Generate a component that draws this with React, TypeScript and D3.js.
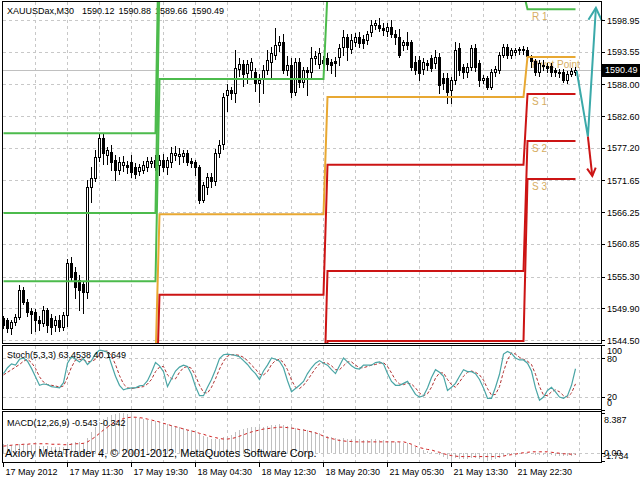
import React from 'react';
import * as d3 from 'd3';

const FONT = '"Liberation Sans", Arial, sans-serif';

// XAUUSDax M30 candles, 17-22 May 2012 (one value per bar)
const candleOpen = [
  1548.2, 1547.9, 1546.5, 1547.6, 1548.4, 1553.0, 1551.0, 1549.4, 1549.2, 1547.9,
  1547.4, 1549.6, 1548.2, 1547.0, 1547.9, 1546.7, 1548.7, 1557.6, 1556.0, 1554.7,
  1554.1, 1552.6, 1570.5, 1572.1, 1575.6, 1578.9, 1576.0, 1576.5, 1575.1, 1573.4,
  1574.2, 1574.3, 1574.8, 1574.0, 1573.2, 1573.4, 1573.9, 1574.6, 1575.1,
  1574.2, 1575.1, 1573.9, 1574.8, 1576.0, 1575.8, 1575.8, 1576.3, 1575.0, 1574.8,
  1573.9, 1568.3, 1570.6, 1572.2, 1571.6, 1576.3, 1577.9, 1586.2, 1587.0, 1586.6,
  1590.6, 1591.5, 1590.0, 1590.4, 1590.1, 1588.2, 1589.0, 1590.4, 1591.8, 1593.0,
  1594.7, 1595.2, 1590.4, 1591.3, 1586.7, 1591.8, 1588.4, 1590.4, 1590.1, 1592.5, 1591.5, 1592.1,
  1592.5, 1591.8, 1591.9, 1592.6, 1594.4, 1596.1, 1594.0, 1595.2, 1596.1, 1595.8,
  1595.6, 1596.9, 1598.1, 1598.1, 1597.6, 1597.0, 1597.8, 1596.6, 1596.0, 1594.7,
  1595.2, 1595.2, 1591.8, 1592.1, 1590.6, 1591.6, 1592.4, 1591.6, 1592.6, 1589.0,
  1589.0, 1587.0, 1588.7, 1594.2, 1591.0, 1590.1, 1591.0, 1594.2, 1591.6, 1588.7,
  1589.0, 1587.6, 1590.1, 1590.4, 1593.0, 1594.4, 1593.0, 1593.5, 1593.8, 1594.0,
  1593.9, 1592.5, 1591.9, 1590.1, 1591.3, 1591.1, 1591.1, 1590.4, 1590.1, 1590.1, 1588.8, 1589.8, 1590.12,
];
const candleHigh = [
  1548.6, 1548.3, 1547.9, 1548.9, 1553.9, 1553.6, 1551.4, 1550.0, 1549.8, 1548.6,
  1550.3, 1550.0, 1548.9, 1548.5, 1548.8, 1549.2, 1558.3, 1558.6, 1557.0, 1555.5,
  1554.6, 1571.7, 1574.0, 1576.8, 1579.6, 1579.6, 1577.4, 1577.6, 1576.0, 1575.6,
  1575.8, 1574.9, 1576.0, 1574.6, 1574.5, 1575.0, 1575.6, 1575.7, 1575.9,
  1576.0, 1576.2, 1575.6, 1577.4, 1577.5, 1577.2, 1576.9, 1576.9, 1575.5, 1575.2,
  1574.3, 1571.3, 1573.0, 1573.0, 1577.0, 1578.5, 1586.5, 1588.0, 1587.6, 1593.8,
  1592.5, 1592.1, 1592.2, 1592.5, 1590.8, 1589.7, 1591.3, 1593.8, 1594.4, 1597.6,
  1596.3, 1596.5, 1592.8, 1592.5, 1592.5, 1592.4, 1591.0, 1591.0, 1594.4, 1593.7, 1594.2, 1592.8,
  1593.3, 1592.3, 1592.6, 1594.8, 1597.2, 1596.6, 1596.6, 1596.8, 1596.9, 1596.4,
  1597.1, 1599.0, 1599.0, 1599.3, 1598.4, 1598.5, 1599.0, 1597.3, 1597.4, 1595.6,
  1596.9, 1595.6, 1592.8, 1592.9, 1592.4, 1592.2, 1593.0, 1593.8, 1593.3, 1589.9,
  1589.9, 1589.3, 1595.2, 1595.0, 1591.5, 1591.6, 1594.7, 1594.9, 1592.1, 1589.6,
  1589.5, 1590.6, 1591.1, 1593.5, 1594.9, 1594.8, 1594.2, 1594.2, 1594.4, 1594.5,
  1594.4, 1593.0, 1592.3, 1592.2, 1592.1, 1591.6, 1591.6, 1590.8, 1590.6, 1590.6, 1590.3, 1590.8, 1590.88,
];
const candleLow = [
  1546.5, 1545.8, 1545.6, 1547.0, 1548.0, 1550.6, 1548.6, 1545.7, 1546.0, 1546.2,
  1546.9, 1545.9, 1545.6, 1546.0, 1546.0, 1546.2, 1546.9, 1554.6, 1551.6, 1549.6,
  1549.1, 1551.6, 1568.0, 1571.5, 1575.0, 1574.4, 1574.5, 1573.5, 1571.7, 1572.8,
  1573.2, 1573.0, 1572.3, 1572.1, 1572.6, 1572.9, 1573.3, 1574.0, 1573.5,
  1572.6, 1573.2, 1572.8, 1574.0, 1575.2, 1574.5, 1574.8, 1574.2, 1574.0, 1572.5,
  1567.8, 1567.9, 1569.3, 1570.6, 1570.8, 1575.7, 1577.0, 1583.4, 1585.5, 1585.0,
  1589.4, 1587.8, 1588.2, 1589.0, 1586.8, 1585.0, 1586.5, 1589.8, 1589.3, 1592.3,
  1593.6, 1590.0, 1589.6, 1585.8, 1586.2, 1587.5, 1587.6, 1586.2, 1589.0, 1591.4, 1590.8, 1590.8,
  1590.4, 1589.9, 1589.5, 1591.3, 1593.0, 1592.2, 1593.3, 1594.6, 1594.4, 1594.2,
  1594.8, 1596.2, 1597.4, 1597.0, 1596.4, 1596.3, 1596.0, 1594.9, 1592.6, 1593.9,
  1594.0, 1590.4, 1589.7, 1588.7, 1589.8, 1590.4, 1590.2, 1590.8, 1586.5, 1587.2,
  1584.8, 1584.8, 1588.0, 1589.6, 1589.0, 1589.3, 1590.4, 1590.2, 1587.8, 1588.2,
  1587.2, 1587.2, 1589.5, 1589.9, 1592.6, 1592.4, 1592.5, 1593.0, 1593.2, 1593.2,
  1592.3, 1591.0, 1589.6, 1589.5, 1590.5, 1590.1, 1589.5, 1589.4, 1589.3, 1588.4, 1588.3, 1589.5, 1589.66,
];
const candleClose = [
  1547.0, 1546.5, 1547.6, 1548.4, 1553.0, 1551.0, 1549.3, 1549.0, 1547.9, 1547.4,
  1549.6, 1547.0, 1546.7, 1547.9, 1546.7, 1548.7, 1557.6, 1555.2, 1553.5, 1553.0,
  1552.6, 1570.5, 1572.1, 1575.6, 1578.9, 1576.3, 1576.8, 1574.8, 1573.4, 1574.8,
  1574.8, 1574.0, 1573.1, 1572.8, 1573.9, 1574.3, 1575.0, 1574.9, 1574.0,
  1575.1, 1573.9, 1575.1, 1576.3, 1576.3, 1576.2, 1576.3, 1574.8, 1574.7, 1573.9,
  1568.3, 1570.9, 1572.2, 1571.6, 1576.3, 1577.6, 1585.8, 1587.0, 1586.6, 1590.8,
  1591.5, 1589.8, 1591.5, 1591.8, 1588.2, 1588.8, 1590.4, 1592.1, 1593.3, 1594.7,
  1595.2, 1590.4, 1591.3, 1586.7, 1591.8, 1588.4, 1590.4, 1590.1, 1592.5, 1592.8, 1593.3, 1591.6,
  1591.5, 1591.3, 1591.6, 1594.2, 1596.1, 1594.4, 1595.6, 1596.1, 1595.0, 1595.0,
  1596.6, 1598.1, 1598.4, 1597.6, 1597.2, 1597.8, 1596.6, 1596.0, 1593.0, 1595.2,
  1594.7, 1591.0, 1590.4, 1590.0, 1591.8, 1591.3, 1590.8, 1592.6, 1587.9, 1588.2,
  1586.7, 1588.7, 1593.8, 1590.4, 1590.1, 1591.0, 1594.2, 1591.0, 1588.7, 1589.0,
  1587.6, 1590.1, 1590.6, 1593.0, 1594.4, 1593.0, 1593.8, 1593.8, 1594.0, 1593.8,
  1592.9, 1591.9, 1590.1, 1591.6, 1591.1, 1590.8, 1590.1, 1590.1, 1590.0, 1588.8, 1589.8, 1590.3, 1590.49,
];

// daily pivot levels (first bar of each day)
const pivotDayStart = [0, 39, 81, 131];
const levelR3 = [1579.7, 1620.0, 1633.4, 1613.6];
const levelR2 = [1566.1, 1606.0, 1615.5, 1607.1];
const levelR1 = [1554.5, 1588.9, 1603.6, 1600.8];
const levelP = [1540.9, 1565.9, 1585.85, 1592.65];
const levelS1 = [1529.3, 1552.2, 1574.3, 1586.35];
const levelS2 = [1515.7, 1532.0, 1556.25, 1578.35];
const levelS3 = [1504.1, 1519.0, 1544.35, 1571.9];

// Stoch(5,3,3)
const stochMain = [
  56, 65, 71, 69, 78, 80, 75, 64, 51, 38,
  40, 39, 36, 35, 34, 42, 72, 82, 78, 74,
  79, 70, 76, 87, 92, 91, 89, 70, 52, 38,
  31, 33, 34, 34, 37, 38, 45, 58, 73, 68,
  59, 36, 48, 60, 66, 69, 67, 55, 36, 22,
  22, 35, 47, 62, 79, 85, 86, 85, 84, 82,
  76, 70, 62, 56, 47, 60, 69, 80, 78, 75,
  65, 45, 28, 33, 38, 44, 56, 65, 72, 76,
  72, 69, 62, 56, 68, 80, 74, 68, 64, 63,
  69, 69, 69, 73, 74, 71, 56, 44, 38, 38,
  41, 44, 34, 24, 20, 22, 34, 50, 62, 58,
  52, 30, 35, 41, 52, 62, 59, 59, 56, 47,
  34, 18, 18, 35, 55, 86, 90, 87, 80, 77,
  77, 72, 60, 34, 15, 20, 30, 35, 28, 20,
  18, 22, 38, 63.4538,
];
const stochSignal = [
  54, 58, 62, 66, 70, 75, 78, 73, 64, 51,
  43, 39, 38, 37, 35, 37, 50, 66, 77, 78,
  77, 74, 75, 78, 85, 90, 91, 83, 70, 53,
  40, 34, 33, 34, 35, 36, 40, 47, 59, 66,
  67, 54, 48, 48, 58, 65, 67, 64, 53, 38,
  27, 26, 35, 48, 63, 75, 83, 85, 85, 84,
  81, 76, 69, 63, 55, 54, 59, 70, 76, 78,
  73, 62, 46, 35, 33, 38, 46, 55, 64, 71,
  73, 72, 68, 62, 62, 68, 74, 74, 69, 65,
  65, 67, 69, 70, 72, 73, 67, 57, 46, 40,
  39, 41, 40, 34, 26, 22, 25, 35, 49, 57,
  57, 47, 39, 35, 43, 52, 58, 60, 58, 54,
  46, 33, 23, 24, 36, 59, 77, 88, 86, 81,
  78, 75, 70, 55, 36, 23, 22, 28, 31, 28,
  22, 20, 26, 40.1649,
];

// MACD(12,26,9)
const macdMain = [
  1.9, 1.8, 1.7, 1.6, 1.8, 1.9, 1.8, 1.7, 1.6, 1.5,
  1.5, 1.4, 1.3, 1.3, 1.2, 1.2, 1.8, 2.1, 2.2, 2.2,
  2.1, 3.2, 4.4, 5.4, 6.4, 7.1, 7.6, 8.0, 8.2, 8.387,
  8.3, 8.1, 7.9, 7.6, 7.4, 7.2, 7.0, 6.8, 6.6, 6.4,
  6.2, 6.0, 5.8, 5.6, 5.4, 5.2, 4.9, 4.7, 4.4, 3.9,
  3.5, 3.3, 3.0, 2.9, 2.8, 3.3, 3.6, 3.8, 4.4, 4.8,
  5.0, 5.3, 5.5, 5.4, 5.4, 5.5, 5.6, 5.8, 5.9, 6.0,
  5.8, 5.7, 5.4, 5.3, 5.1, 5.0, 4.8, 4.6, 4.3, 4.1,
  3.8, 3.5, 3.3, 3.1, 3.0, 3.1, 3.0, 2.9, 2.8, 2.8,
  2.7, 2.7, 2.8, 2.8, 2.7, 2.6, 2.5, 2.4, 2.3, 2.2,
  2.1, 2.0, 1.6, 1.2, 0.8, 0.5, 0.3, 0.1, 0.0, -0.5,
  -0.8, -1.3, -1.5, -1.2, -1.3, -1.4, -1.3, -1.0, -1.1, -1.4,
  -1.6, -1.734, -1.6, -1.4, -1.0, -0.6, -0.5, -0.3, -0.2, -0.1,
  0.0, -0.1, -0.2, -0.4, -0.4, -0.4, -0.5, -0.5, -0.6, -0.6,
  -0.7, -0.7, -0.6, -0.543,
];
const macdSignal = [
  1.4, 1.5, 1.6, 1.7, 1.7, 1.8, 1.8, 1.9, 1.9, 1.9,
  1.9, 1.9, 1.8, 1.8, 1.8, 1.7, 1.7, 1.8, 1.9, 1.9,
  2.0, 2.3, 2.8, 3.4, 4.1, 4.8, 5.4, 6.0, 6.5, 6.9,
  7.2, 7.4, 7.5, 7.5, 7.4, 7.3, 7.1, 6.9, 6.7, 6.5,
  6.2, 6.0, 5.7, 5.5, 5.3, 5.0, 4.8, 4.6, 4.4, 4.1,
  3.9, 3.6, 3.4, 3.2, 3.0, 2.9, 2.9, 3.0, 3.2, 3.5,
  3.8, 4.1, 4.4, 4.6, 4.8, 5.0, 5.1, 5.2, 5.3, 5.4,
  5.4, 5.3, 5.2, 5.1, 4.9, 4.8, 4.6, 4.4, 4.2, 3.9,
  3.5, 3.2, 3.0, 2.8, 2.6, 2.5, 2.4, 2.4, 2.3, 2.3,
  2.3, 2.3, 2.3, 2.3, 2.3, 2.3, 2.3, 2.3, 2.3, 2.3,
  2.3, 2.1, 1.8, 1.4, 1.1, 0.9, 0.7, 0.6, 0.3, 0.1,
  -0.2, -0.4, -0.6, -0.7, -0.8, -0.8, -0.8, -0.8, -0.8, -0.8,
  -0.8, -0.8, -0.8, -0.8, -0.8, -0.7, -0.5, -0.4, -0.3, -0.1,
  0.0, 0.1, 0.2, 0.2, 0.2, 0.2, 0.2, 0.1, 0.0, -0.1,
  -0.2, -0.25, -0.3, -0.342,
];

// forecast arrows drawn on the chart (bar position, price)
const upArrowBars = [143.3, 146.1, 148.1];
const upArrowPrices = [1590.3, 1579.1, 1601.0];
const downArrowBars = [146.1, 147.2];
const downArrowPrices = [1579.1, 1572.4];

const priceTicks = [1598.95, 1593.55, 1588.0, 1582.6, 1577.2, 1571.65, 1566.25, 1560.85, 1555.3, 1549.9, 1544.5];
const timeTickBars = [0, 16, 32, 48, 64, 80, 96, 112, 128];
const timeTickLabels = [
  '17 May 2012', '17 May 11:30', '17 May 19:30', '18 May 04:30', '18 May 12:30',
  '18 May 20:30', '21 May 05:30', '21 May 13:30', '21 May 22:30',
];

const GREEN = '#4cbb4c';
const ORANGE = '#e8a832';
const RED = '#cc1414';
const GRID = '#c8c8c8';

function arrowHead(p1: [number, number], p2: [number, number], len: number, ang: number) {
  const a = Math.atan2(p1[1] - p2[1], p1[0] - p2[0]);
  const l: [number, number] = [p2[0] + len * Math.cos(a + ang), p2[1] + len * Math.sin(a + ang)];
  const r: [number, number] = [p2[0] + len * Math.cos(a - ang), p2[1] + len * Math.sin(a - ang)];
  return `M${l[0]},${l[1]}L${p2[0]},${p2[1]}L${r[0]},${r[1]}`;
}

export default function App() {
  const n = candleClose.length;
  const x = d3.scaleLinear().domain([0, n - 1]).range([3.5, 575.5]);
  const y = d3.scaleLinear().domain([1544.5, 1598.95]).range([340, 20]);
  const yS = d3.scaleLinear().domain([0, 100]).range([410, 345]);
  const yM = d3.scaleLinear().domain([-1.734, 8.387]).range([461, 413]);
  const px = (v: number) => Math.round(v) + 0.5;

  const dayOf = (i: number) => d3.bisectRight(pivotDayStart, i) - 1;
  const levels = [
    { vals: levelR3, color: GREEN }, { vals: levelR2, color: GREEN }, { vals: levelR1, color: GREEN },
    { vals: levelP, color: ORANGE },
    { vals: levelS1, color: RED }, { vals: levelS2, color: RED }, { vals: levelS3, color: RED },
  ];
  const stepLine = d3.line<number>().x((_, i) => x(i)).y(v => y(v));
  const last = pivotDayStart.length - 1;
  const pivotLabels = [
    { t: 'R 1', v: levelR1[last] }, { t: 'Pivot Point', v: levelP[last] },
    { t: 'S 1', v: levelS1[last] }, { t: 'S 2', v: levelS2[last] }, { t: 'S 3', v: levelS3[last] },
  ];

  const stochLine = d3.line<number>().x((_, i) => x(i)).y(v => yS(v));
  const macdLine = d3.line<number>().x((_, i) => x(i)).y(v => yM(v));

  const upPts = upArrowBars.map((b, i) => [x(b), y(upArrowPrices[i])] as [number, number]);
  const downPts = downArrowBars.map((b, i) => [x(b), y(downArrowPrices[i])] as [number, number]);
  const polyline = d3.line<[number, number]>();

  const gridBars = d3.range(8, n + 1, 8);
  const lastClose = candleClose[n - 1];

  return (
    <div style={{ position: 'absolute', left: 0, top: 0 }}>
      <svg width={640} height={480} style={{ display: 'block', fontFamily: FONT }}>
        <defs>
          <clipPath id="mainClip"><rect x={3} y={2} width={598} height={341} /></clipPath>
        </defs>
        <rect width={640} height={480} fill="#fff" />

        {/* grid */}
        {gridBars.map(b => (
          <g key={'vg' + b} stroke={GRID} strokeDasharray="3,3">
            <line x1={px(x(b) - 0.5)} x2={px(x(b) - 0.5)} y1={2} y2={343} />
            <line x1={px(x(b) - 0.5)} x2={px(x(b) - 0.5)} y1={346} y2={409} />
            <line x1={px(x(b) - 0.5)} x2={px(x(b) - 0.5)} y1={412} y2={462} />
          </g>
        ))}
        {priceTicks.map(t => (
          <line key={'hg' + t} x1={3} x2={601} y1={px(y(t))} y2={px(y(t))} stroke={GRID} strokeDasharray="3,3" />
        ))}
        {[80, 20].map(t => (
          <line key={'sg' + t} x1={3} x2={601} y1={px(yS(t))} y2={px(yS(t))} stroke={GRID} strokeDasharray="3,3" />
        ))}
        <line x1={3} x2={601} y1={px(yM(0))} y2={px(yM(0))} stroke={GRID} strokeDasharray="3,3" />

        {/* bid line */}
        <line x1={3} x2={601} y1={px(y(lastClose))} y2={px(y(lastClose))} stroke="#c0c0c0" />

        {/* title */}
        <text x={7} y={14} fontSize={9} fill="#000">XAUUSDax,M30</text>
        {[candleOpen[n - 1], candleHigh[n - 1], candleLow[n - 1], lastClose].map((v, i) => (
          <text key={'t' + i} x={82 + i * 36.5} y={14} fontSize={9} fill="#000">{v.toFixed(2)}</text>
        ))}

        <g clipPath="url(#mainClip)">
          {pivotLabels.map(l => (
            <text key={l.t} x={532} y={y(l.v) + 11} fontSize={10} fill="#d6ad62">{l.t}</text>
          ))}

          {/* candles */}
          {candleClose.map((c, i) => {
            const o = candleOpen[i];
            const xc = x(i);
            const top = Math.round(y(Math.max(o, c)));
            const bot = Math.round(y(Math.min(o, c)));
            return (
              <g key={'c' + i}>
                <line x1={xc} x2={xc} y1={Math.round(y(candleHigh[i]))} y2={Math.round(y(candleLow[i])) + 1} stroke="#000" />
                <rect x={xc - 1} y={top + 0.5} width={2} height={Math.max(bot - top, 0)}
                  fill={c >= o ? '#fff' : '#000'} stroke="#000" />
              </g>
            );
          })}

          {/* pivot step lines */}
          {levels.map((l, k) => (
            <path key={'lv' + k} d={stepLine(candleClose.map((_, i) => l.vals[dayOf(i)])) || ''}
              fill="none" stroke={l.color} strokeWidth={2} />
          ))}
        </g>

        {/* forecast arrows */}
        <path d={polyline(upPts) || ''} fill="none" stroke="#3aa9a9" strokeWidth={2} />
        <path d={arrowHead(upPts[1], upPts[2], 14, 0.5)} fill="none" stroke="#3aa9a9" strokeWidth={2} />
        <path d={polyline(downPts) || ''} fill="none" stroke={RED} strokeWidth={2} />
        <path d={arrowHead(downPts[0], downPts[1], 9, 0.5)} fill="none" stroke={RED} strokeWidth={2} />

        {/* stochastic */}
        <path d={stochLine(stochSignal) || ''} fill="none" stroke="#b03030" strokeDasharray="3,2" />
        <path d={stochLine(stochMain) || ''} fill="none" stroke="#4aa5a5" strokeWidth={1.2} />
        <text x={7} y={358} fontSize={9} fill="#000">
          {`Stoch(5,3,3) ${stochMain[n - 1].toFixed(4)} ${stochSignal[n - 1].toFixed(4)}`}
        </text>

        {/* MACD */}
        {macdMain.map((v, i) => (
          <line key={'m' + i} x1={x(i)} x2={x(i)} y1={Math.round(yM(0))} y2={Math.round(yM(v))} stroke="#c0c0c0" />
        ))}
        <path d={macdLine(macdSignal) || ''} fill="none" stroke="#d02020" strokeDasharray="3,3" />
        <text x={7} y={426} fontSize={9} fill="#000">
          {`MACD(12,26,9) ${macdMain[n - 1].toFixed(3)} ${macdSignal[n - 1].toFixed(3)}`}
        </text>
        <text x={5} y={457} fontSize={11} fill="#000">Axiory MetaTrader 4, © 2001-2012, MetaQuotes Software Corp.</text>

        {/* panel frames */}
        <g fill="none" stroke="#000">
          <rect x={2.5} y={1.5} width={599} height={342} />
          <rect x={2.5} y={345.5} width={599} height={64} />
          <rect x={2.5} y={411.5} width={599} height={51} />
        </g>

        {/* price axis */}
        {priceTicks.map(t => (
          <g key={'pt' + t}>
            <line x1={601} x2={605} y1={px(y(t))} y2={px(y(t))} stroke="#000" />
            <text x={607} y={y(t) + 3.5} fontSize={9} fill="#000">{t.toFixed(2)}</text>
          </g>
        ))}
        <rect x={602} y={Math.round(y(lastClose)) - 6} width={38} height={13} fill="#000" />
        <text x={605} y={y(lastClose) + 3.5} fontSize={9} fill="#fff">{lastClose.toFixed(2)}</text>

        {/* stoch axis */}
        {[100, 80, 20, 0].map(t => (
          <line key={'st' + t} x1={601} x2={605} y1={px(yS(t))} y2={px(yS(t))} stroke="#000" />
        ))}
        <text x={607} y={yS(100) + 9} fontSize={9}>100</text>
        <text x={607} y={yS(80) + 3.5} fontSize={9}>80</text>
        <text x={607} y={yS(20) + 3} fontSize={9}>20</text>
        <text x={607} y={yS(0) - 4} fontSize={9}>0</text>

        {/* macd axis */}
        {[8.387, 0, -1.734].map(t => (
          <line key={'mt' + t} x1={601} x2={605} y1={px(yM(t))} y2={px(yM(t))} stroke="#000" />
        ))}
        <text x={604} y={yM(8.387) + 10} fontSize={9}>8.387</text>
        <text x={604} y={yM(0) + 3} fontSize={9}>0.00</text>
        <text x={603} y={yM(-1.734) - 2} fontSize={9}>-1.734</text>

        {/* time axis */}
        {timeTickBars.map((b, i) => (
          <g key={'tt' + b}>
            <line x1={px(x(b) - 0.5)} x2={px(x(b) - 0.5)} y1={462} y2={467} stroke="#000" />
            <text x={x(b) + 2} y={475} fontSize={9} fill="#000">{timeTickLabels[i]}</text>
          </g>
        ))}
      </svg>
    </div>
  );
}
